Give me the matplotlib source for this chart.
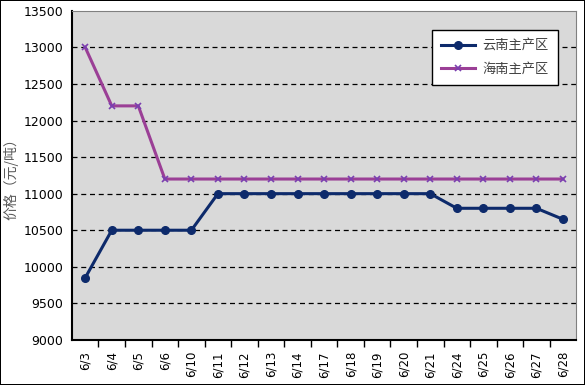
import numpy as np
import matplotlib.pyplot as plt
from matplotlib.ticker import FixedLocator

plt.rcParams['font.family'] = ['DejaVu Sans', 'Noto Sans CJK SC']

dates = ['6/3', '6/4', '6/5', '6/6', '6/10', '6/11', '6/12', '6/13', '6/14', '6/17',
         '6/18', '6/19', '6/20', '6/21', '6/24', '6/25', '6/26', '6/27', '6/28']
yunnan = [9850, 10500, 10500, 10500, 10500, 11000, 11000, 11000, 11000, 11000,
          11000, 11000, 11000, 11000, 10800, 10800, 10800, 10800, 10650]
hainan = [13000, 12200, 12200, 11200, 11200, 11200, 11200, 11200, 11200, 11200,
          11200, 11200, 11200, 11200, 11200, 11200, 11200, 11200, 11200]

fig = plt.figure(figsize=(5.85, 3.85), dpi=100)
fig.patch.set_edgecolor('black')
fig.patch.set_linewidth(1.2)
ax = fig.add_axes([0.123, 0.117, 0.862, 0.855])
ax.set_facecolor('#D9D9D9')

x = np.arange(len(dates))
ax.plot(x, yunnan, color='#0D2A6B', lw=2.2, marker='o', ms=5.5, label='云南主产区', zorder=3)
ax.plot(x, hainan, color='#9B3F96', lw=2.2, marker='x', ms=5, mec='#7A3FB0', mew=1.2,
        label='海南主产区', zorder=3)

ax.set_ylim(9000, 13500)
ax.set_yticks(np.arange(9000, 13501, 500))
ax.set_xlim(-0.5, len(dates) - 0.5)
ax.set_xticks(x)
ax.set_xticklabels(dates, rotation=90)
ax.xaxis.set_minor_locator(FixedLocator(np.arange(0.5, len(dates) - 0.5, 1)))
ax.tick_params(axis='x', which='major', length=0, pad=8, labelsize=8.5)
ax.tick_params(axis='x', which='minor', length=5, width=1, direction='out')
ax.tick_params(axis='y', length=0, labelsize=9, pad=6)

for v in np.arange(9500, 13001, 500):
    ax.axhline(v, color='black', linestyle=(0, (4, 3)), lw=0.9, zorder=1)

for s in ['top', 'right']:
    ax.spines[s].set_color('#808080')
    ax.spines[s].set_linewidth(0.8)
for s in ['left', 'bottom']:
    ax.spines[s].set_color('black')
    ax.spines[s].set_linewidth(1.5)

ax.set_ylabel('价格（元/吨）', color='#595959', fontsize=10, family=['Noto Sans CJK SC'],
              labelpad=4)

leg = ax.legend(loc='upper right', bbox_to_anchor=(0.976, 0.962),
                prop={'family': ['Noto Sans CJK SC'], 'size': 9.5},
                fancybox=False, edgecolor='black', framealpha=1, borderpad=0.7,
                labelspacing=0.8, handlelength=2.6, handletextpad=0.5)
leg.get_frame().set_linewidth(1.0)
for t in leg.get_texts():
    t.set_color('#404040')

fig.savefig('out.png', dpi=100, edgecolor=fig.get_edgecolor())
